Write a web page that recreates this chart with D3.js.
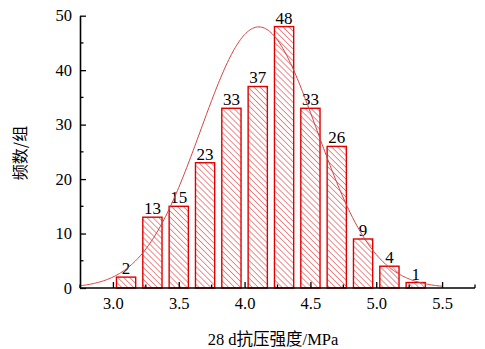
<!DOCTYPE html>
<html><head><meta charset="utf-8">
<script src="https://cdn.jsdelivr.net/npm/d3@7"></script>
<style>body{margin:0;background:#fff}svg{display:block}</style>
</head><body>
<svg id="c" width="485" height="349"></svg>
<script>
const binCenters = [3.1,3.3,3.5,3.7,3.9,4.1,4.3,4.5,4.7,4.9,5.1,5.3];
const counts = [2,13,15,23,33,37,48,33,26,9,4,1];
const xTicks = [3.0,3.5,4.0,4.5,5.0,5.5];
const xMinor = [2.75,3.25,3.75,4.25,4.75,5.25,5.75];
const yTicks = [0,10,20,30,40,50];
const yMinor = [5,15,25,35,45];
const fitMean = 4.108, fitSigma = 0.44, fitPeak = 47.95;
const curveRange = [2.75, 5.5];

const svg = d3.select("#c");
const x = d3.scaleLinear().domain([2.75,5.75]).range([80,475]);
const y = d3.scaleLinear().domain([0,50]).range([288,15.7]);
const red = "#e00000";
const serif = "'Liberation Serif','Times New Roman',serif";

const defs = svg.append("defs");
const pat = defs.append("pattern").attr("id","hatch").attr("patternUnits","userSpaceOnUse")
  .attr("width",4.2).attr("height",4.2).attr("patternTransform","rotate(-45)");
pat.append("line").attr("x1",0).attr("y1",0).attr("x2",0).attr("y2",4.2)
  .attr("stroke","#e03030").attr("stroke-width",1.1);

const bw = x(3.1+0.073)-x(3.1-0.073);
svg.append("g").selectAll("rect").data(binCenters).join("rect")
  .attr("x",(d)=>x(d)-bw/2).attr("width",bw)
  .attr("y",(d,i)=>y(counts[i])).attr("height",(d,i)=>y(0)-y(counts[i]))
  .attr("fill","url(#hatch)").attr("stroke",red).attr("stroke-width",1.4);

svg.append("g").selectAll("text").data(binCenters).join("text")
  .attr("x",d=>x(d)).attr("y",(d,i)=>y(counts[i])-3)
  .attr("text-anchor","middle").attr("font-family",serif).attr("font-size",17)
  .attr("fill","#000").text((d,i)=>counts[i]);

const pts = d3.range(curveRange[0], curveRange[1]+0.0001, 0.01);
const line = d3.line().x(d=>x(d)).y(d=>y(fitPeak*Math.exp(-0.5*Math.pow((d-fitMean)/fitSigma,2)))).curve(d3.curveBasis);
svg.append("path").datum(pts).attr("d",line).attr("fill","none").attr("stroke","#d04545").attr("stroke-width",1);

// x axis
const gx = svg.append("g").attr("transform",`translate(0,${y(0)})`);
gx.call(d3.axisBottom(x).tickValues(xTicks).tickFormat(d3.format(".1f")).tickSizeInner(-6).tickSizeOuter(0).tickPadding(9));
gx.selectAll(".tick line").attr("stroke-width",1.3);
gx.select(".domain").attr("stroke-width",1.6).attr("d",`M${x(2.75)},0H${x(5.75)}`);
gx.selectAll("text").attr("font-family",serif).attr("font-size",16.5).attr("fill","#000");
gx.selectAll(".minor").data(xMinor).join("line").attr("class","minor")
  .attr("x1",d=>x(d)).attr("x2",d=>x(d)).attr("y1",0).attr("y2",-3.5).attr("stroke","#000").attr("stroke-width",1.3);

// y axis
const gy = svg.append("g").attr("transform",`translate(${x(2.75)},0)`);
gy.call(d3.axisLeft(y).tickValues(yTicks).tickSizeInner(-6).tickSizeOuter(0).tickPadding(8));
gy.selectAll(".tick line").attr("stroke-width",1.3);
gy.select(".domain").attr("stroke-width",1.6);
gy.selectAll("text").attr("font-family",serif).attr("font-size",16.5).attr("fill","#000");
gy.selectAll(".minor").data(yMinor).join("line").attr("class","minor")
  .attr("x1",0).attr("x2",3.5).attr("y1",d=>y(d)).attr("y2",d=>y(d)).attr("stroke","#000").attr("stroke-width",1.3);

svg.append("text").attr("transform","translate(26,153) rotate(-90)")
  .attr("text-anchor","middle").attr("font-family","'Noto Sans CJK SC',sans-serif").attr("font-size",16).attr("fill","#000")
  .text("频数/组");
svg.append("text").attr("x",273).attr("y",345).attr("text-anchor","middle")
  .attr("font-family",serif+",'Noto Sans CJK SC'").attr("font-size",16.5).attr("fill","#000")
  .text("28 d抗压强度/MPa");
</script>
</body></html>
